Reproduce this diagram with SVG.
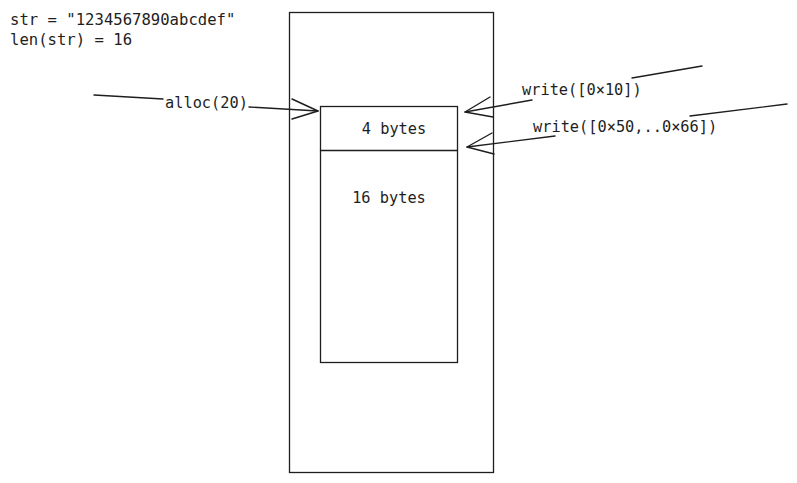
<svg xmlns="http://www.w3.org/2000/svg" width="797" height="483" viewBox="0 0 797 483">
<style>
.box{fill:#fff;stroke:#1e1e1e;stroke-width:1.3}
.ln{fill:none;stroke:#1e1e1e;stroke-width:1.4;stroke-linecap:round;stroke-linejoin:round}
.t{font-family:"DejaVu Sans Mono","Liberation Mono",monospace;font-size:15.3px;fill:#1e1e1e}
.h{font-family:"DejaVu Sans Mono","Liberation Mono",monospace;font-size:15.6px;fill:#1e1e1e}
</style>
<rect width="797" height="483" fill="#fff"/>
<g id="header">
<text class="h" x="10" y="25">str = "1234567890abcdef"</text>
<text class="h" x="10" y="45">len(str) = 16</text>
</g>
<g id="memory">
<rect class="box" x="289.5" y="12.5" width="204" height="460"/>
</g>
<g id="block">
<rect class="box" x="320.5" y="106.5" width="137" height="256"/>
<line class="ln" x1="320.5" y1="150.5" x2="457.5" y2="150.5"/>
<text class="t" x="394" y="134" text-anchor="middle">4 bytes</text>
<text class="t" x="389" y="203" text-anchor="middle">16 bytes</text>
</g>
<g id="connectors">
<path class="ln" d="M94 95 L163 99"/>
<path class="ln" d="M249 107 L318 111"/>
<path class="ln" d="M292 99 L318 111 L292 119"/>
<text class="t" x="165" y="108">alloc(20)</text>
<path class="ln" d="M702 66 L632 78"/>
<path class="ln" d="M532 100 L465 112"/>
<path class="ln" d="M490 97 L465 112 L493 117"/>
<text class="t" x="522" y="95">write([0×10])</text>
<path class="ln" d="M787 104 L690 116"/>
<path class="ln" d="M555 136 L467 147"/>
<path class="ln" d="M492 133 L467 147 L494 154"/>
<text class="t" x="533" y="132">write([0×50,..0×66])</text>
</g>
</svg>
